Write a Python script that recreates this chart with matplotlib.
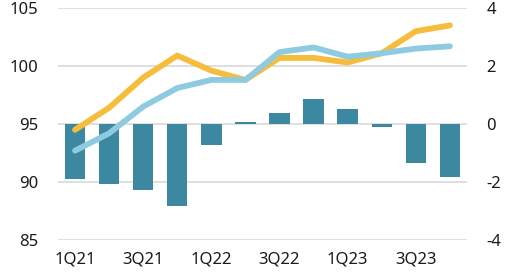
import matplotlib
matplotlib.use("Agg")
import matplotlib.pyplot as plt
import numpy as np

plt.rcParams['font.family'] = ['Noto Sans', 'DejaVu Sans']
plt.rcParams['axes.unicode_minus'] = False

quarters = ['1Q21', '2Q21', '3Q21', '4Q21', '1Q22', '2Q22',
            '3Q22', '4Q22', '1Q23', '2Q23', '3Q23', '4Q23']
# left axis (index)
orange_line = [94.5, 96.4, 99.0, 100.9, 99.6, 98.8, 100.7, 100.7, 100.3, 101.1, 103.0, 103.5]
blue_line = [92.7, 94.2, 96.5, 98.1, 98.8, 98.8, 101.2, 101.6, 100.8, 101.1, 101.5, 101.7]
# right axis (change)
bar_values = [-1.9, -2.08, -2.29, -2.84, -0.73, 0.06, 0.37, 0.86, 0.53, -0.09, -1.33, -1.82]

x = np.arange(len(quarters))

fig = plt.figure(figsize=(5.2, 2.72), dpi=100)
ax = fig.add_axes([0.1115, 0.1176, 0.7865, 0.853])
ax2 = ax.twinx()

# bars + grid on the right axis, lines on top
ax2.bar(x, bar_values, width=0.6, color='#3B88A0', zorder=2)
ax2.set_ylim(-4, 4)
ax2.set_yticks([-4, -2, 0, 2, 4])
ax2.grid(axis='y', color='#D9D9D9', linewidth=1.2, zorder=0)
ax2.set_axisbelow(True)

ax.set_zorder(ax2.get_zorder() + 1)
ax.patch.set_visible(False)
ax.plot(x, orange_line, color='#F6BC3C', linewidth=4.2, solid_capstyle='round', solid_joinstyle='round')
ax.plot(x, blue_line, color='#8FCBE0', linewidth=4.2, solid_capstyle='round', solid_joinstyle='round')
ax.set_ylim(85, 105)
ax.set_yticks([85, 90, 95, 100, 105])
ax.set_xlim(-0.5, len(quarters) - 0.5)
ax.set_xticks(x[::2])
ax.set_xticklabels(quarters[::2])

for a in (ax, ax2):
    for s in a.spines.values():
        s.set_visible(False)
    a.tick_params(length=0, labelsize=12, colors='#1a1a1a')
ax.tick_params(axis='y', pad=14)
ax2.tick_params(axis='y', pad=14)
ax.tick_params(axis='x', pad=8)

fig.savefig('out.png', dpi=100)
